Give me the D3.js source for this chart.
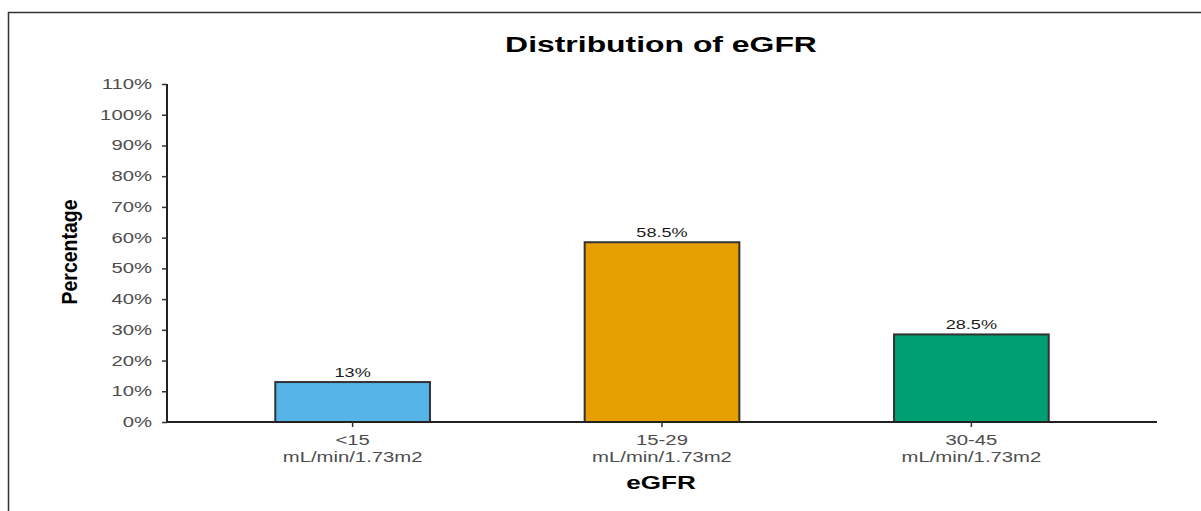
<!DOCTYPE html>
<html><head><meta charset="utf-8">
<script src="https://cdn.jsdelivr.net/npm/d3@7"></script>
<style>body{margin:0;background:#fff}svg{display:block}</style>
</head><body>
<script>
const categories = ["<15\nmL/min/1.73m2", "15-29\nmL/min/1.73m2", "30-45\nmL/min/1.73m2"];
const values = [13, 58.5, 28.5];
const valueLabels = ["13%", "58.5%", "28.5%"];
const colors = ["#56B4E9", "#E69F00", "#009E73"];
const yTicks = [0,10,20,30,40,50,60,70,80,90,100,110];

const W = 1201, H = 511;
const SX = 1.45; // horizontal stretch of text in the reference
const FONT = "Liberation Sans, Arial, Helvetica, sans-serif";
const svg = d3.select("body").append("svg").attr("width", W).attr("height", H);
svg.append("rect").attr("width", W).attr("height", H).attr("fill", "#fff");
svg.append("path").attr("d", "M8.5,512 V12.5 H1202").attr("fill","none").attr("stroke","#333").attr("stroke-width",1.5);

const x0 = 167, x1 = 1157, y0 = 422, y1 = 84;
// ggplot-style discrete scale: 0.6 expansion each side, bar width 0.5 of a step
const x = d3.scalePoint().domain(categories).range([x0, x1]).padding(0.6 * 2 / 2 + 0.1);
const step = (x1 - x0) / 3.2;
x.range([x0 + step * 0.6, x1 - step * 0.6]).padding(0);
const y = d3.scaleLinear().domain([0, 110]).range([y0, y1]);

function stext(g, px, py, str, opts) {
  const t = g.append("text")
    .attr("transform", `translate(${px},${py}) scale(${opts.sx || SX},1)`)
    .attr("text-anchor", opts.anchor || "middle")
    .attr("font-family", FONT).attr("font-size", opts.size)
    .attr("font-weight", opts.weight || "normal")
    .attr("fill", opts.fill || "#000");
  if (opts.dy) t.attr("dy", opts.dy);
  t.text(str);
  return t;
}

// title
stext(svg, 661, 52, "Distribution of eGFR", {size: 22, weight: "bold"});

// bars
const bw = step * 0.5;
svg.selectAll("rect.bar").data(values).enter().append("rect").attr("class","bar")
  .attr("x", (d,i) => x(categories[i]) - bw/2).attr("width", bw)
  .attr("y", d => y(d)).attr("height", d => y0 - y(d))
  .attr("fill", (d,i) => colors[i]).attr("stroke","#333").attr("stroke-width",2);

values.forEach((d,i) => stext(svg, x(categories[i]), y(d) - 5.5, valueLabels[i], {size: 12.5, fill: "#1a1a1a"}));

// y axis
const yAxis = d3.axisLeft(y).tickValues(yTicks).tickSize(5).tickFormat("");
const gy = svg.append("g").attr("transform", `translate(${x0},0)`).call(yAxis);
gy.select(".domain").attr("stroke","#222").attr("stroke-width",2).attr("d", `M0,${y0+1}V${y1}`);
gy.selectAll(".tick line").attr("stroke","#333").attr("stroke-width",1.5);
yTicks.forEach(v => stext(svg, 152, y(v), v + "%", {size: 14, anchor: "end", fill: "#4d4d4d", dy: "0.36em"}));

// x axis
const gx = svg.append("g").attr("transform", `translate(0,${y0})`);
gx.append("line").attr("x1", x0).attr("x2", x1).attr("stroke","#222").attr("stroke-width",2);
categories.forEach(c => {
  gx.append("line").attr("x1", x(c)).attr("x2", x(c)).attr("y1", 0).attr("y2", 5).attr("stroke","#333").attr("stroke-width",1.5);
  c.split("\n").forEach((line, k) => stext(gx, x(c), 23 + k * 17, line, {size: 14, fill: "#4d4d4d"}));
});

// axis titles
stext(svg, 661, 489, "eGFR", {size: 18, weight: "bold"});
svg.append("text").attr("transform","translate(77,252) scale(1.15,1) rotate(-90)").attr("text-anchor","middle")
  .attr("font-family", FONT).attr("font-weight","bold").attr("font-size",19.5).attr("fill","#000").text("Percentage");
</script>
</body></html>
